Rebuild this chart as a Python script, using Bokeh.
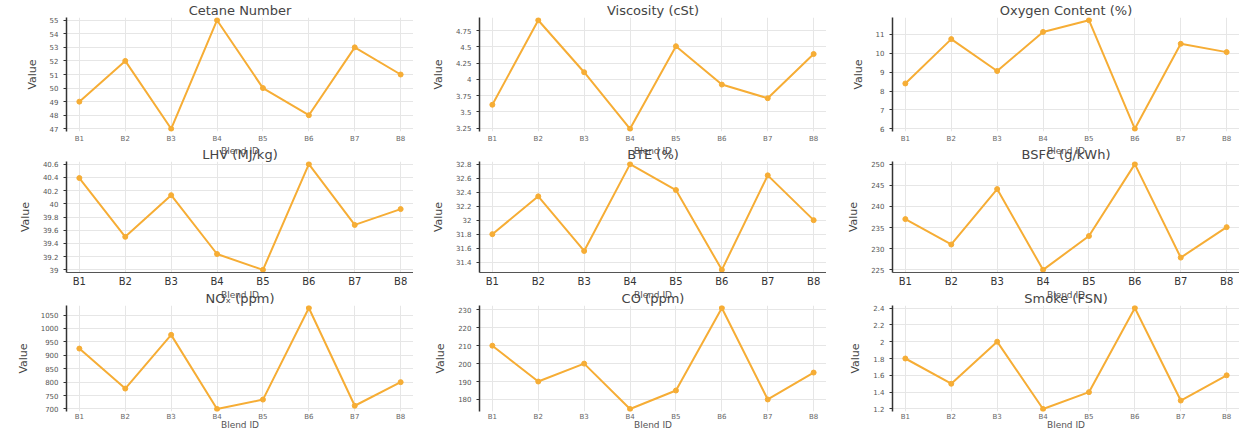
from bokeh.plotting import figure
from bokeh.layouts import column, row
from bokeh.models import FactorRange, DataRange1d, FixedTicker, ColumnDataSource
from bokeh.embed import file_html
from bokeh.resources import INLINE

blends = ["B1", "B2", "B3", "B4", "B5", "B6", "B7", "B8"]

titles = ["Cetane Number", "Viscosity (cSt)", "Oxygen Content (%)",
          "LHV (MJ/kg)", "BTE (%)", "BSFC (g/kWh)",
          "NOₓ (ppm)", "CO (ppm)", "Smoke (FSN)"]

cetane = [49, 52, 47, 55, 50, 48, 53, 51]
viscosity = [3.61, 4.91, 4.11, 3.24, 4.51, 3.92, 3.71, 4.39]
oxygen = [8.4, 10.75, 9.06, 11.13, 11.75, 6.0, 10.5, 10.06]
lhv = [40.39, 39.50, 40.13, 39.24, 39.00, 40.60, 39.68, 39.92]
bte = [31.80, 32.34, 31.56, 32.80, 32.43, 31.29, 32.64, 32.00]
bsfc = [237.0, 231.0, 244.1, 225.0, 233.0, 250.0, 227.9, 235.1]
nox = [925, 776, 976, 700, 735, 1076, 712, 800]
co = [210, 190, 200, 174.7, 185, 231, 180, 195]
smoke = [1.8, 1.5, 2.0, 1.2, 1.4, 2.4, 1.3, 1.6]

cetane_ticks = [47, 48, 49, 50, 51, 52, 53, 54, 55]
viscosity_ticks = [3.25, 3.5, 3.75, 4.0, 4.25, 4.5, 4.75]
oxygen_ticks = [6, 7, 8, 9, 10, 11, 12]
lhv_ticks = [39.0, 39.2, 39.4, 39.6, 39.8, 40.0, 40.2, 40.4, 40.6]
bte_ticks = [31.4, 31.6, 31.8, 32.0, 32.2, 32.4, 32.6, 32.8]
bsfc_ticks = [225, 230, 235, 240, 245, 250]
nox_ticks = [700, 750, 800, 850, 900, 950, 1000, 1050]
co_ticks = [180, 190, 200, 210, 220, 230]
smoke_ticks = [1.2, 1.4, 1.6, 1.8, 2.0, 2.2, 2.4]

series = [cetane, viscosity, oxygen, lhv, bte, bsfc, nox, co, smoke]
ticks = [cetane_ticks, viscosity_ticks, oxygen_ticks, lhv_ticks, bte_ticks,
         bsfc_ticks, nox_ticks, co_ticks, smoke_ticks]

LINE = "#f6ad35"
FONT = "DejaVu Sans"

figs = []
for i, (t, vals, tk) in enumerate(zip(titles, series, ticks)):
    r = i // 3
    src = ColumnDataSource(dict(blend=blends, value=vals))
    h = 144 if r == 2 else 158
    p = figure(width=413, height=h, output_backend="svg", toolbar_location=None,
               x_range=FactorRange(factors=blends, range_padding=-0.22,
                                   range_padding_units="absolute"),
               y_range=DataRange1d(range_padding=0.05),
               min_border_left=66, min_border_right=0, min_border_top=1,
               min_border_bottom=0)
    p.title.text = t
    p.title.align = "center"
    p.title.text_font = FONT
    p.title.text_font_size = "13px"
    p.title.text_font_style = "normal"
    p.title.text_color = "#444444"
    p.title.standoff = 0
    p.line("blend", "value", source=src, line_color=LINE, line_width=2)
    p.scatter("blend", "value", source=src, size=5, fill_color=LINE,
              line_color=LINE)
    p.yaxis.ticker = FixedTicker(ticks=tk)
    p.yaxis.axis_label = "Value"
    p.yaxis.axis_label_text_font = FONT
    p.yaxis.axis_label_text_font_size = "11px"
    p.yaxis.axis_label_text_font_style = "normal"
    p.yaxis.axis_label_text_color = "#444444"
    p.yaxis.axis_label_standoff = 8
    p.yaxis.major_label_text_font = FONT
    p.yaxis.major_label_text_font_size = "7px"
    p.yaxis.major_label_text_color = "#555555"
    p.yaxis.axis_line_color = "#333333"
    p.yaxis.axis_line_width = 1.5
    p.yaxis.major_tick_line_color = "#333333"
    p.yaxis.minor_tick_line_color = None
    p.yaxis.major_tick_in = 0
    p.yaxis.major_tick_out = 3
    p.xaxis.axis_label = "Blend ID"
    p.xaxis.axis_label_text_font = FONT
    p.xaxis.axis_label_text_font_size = "9px"
    p.xaxis.axis_label_text_font_style = "normal"
    p.xaxis.axis_label_text_color = "#555555"
    p.xaxis.axis_label_standoff = 0
    p.xaxis.major_label_text_font = FONT
    p.xaxis.major_label_standoff = 3
    p.xaxis.major_tick_line_color = None
    p.xaxis.major_tick_out = 0
    p.xaxis.major_tick_in = 0
    if r == 1:
        p.xaxis.major_label_text_font_size = "10px"
        p.xaxis.major_label_text_color = "#333333"
        p.xaxis.axis_line_color = "#555555"
    else:
        p.xaxis.major_label_text_font_size = "7px"
        p.xaxis.major_label_text_color = "#666666"
        p.xaxis.axis_line_color = None
    if r == 2:
        p.xaxis.major_label_standoff = 1
        p.xaxis.axis_label_standoff = -4
    p.xgrid.grid_line_color = "#e6e6e6"
    p.ygrid.grid_line_color = "#e6e6e6"
    p.outline_line_color = None
    p.border_fill_color = None
    p.background_fill_color = None
    figs.append(p)

rows = []
for r in range(3):
    kids = figs[3 * r:3 * r + 3]
    if r == 0:
        rows.append(row(*kids))
    else:
        rows.append(row(*kids, margin=(-14, 0, 0, 0)))

layout = column(*rows)
open("out.html", "w").write(file_html(layout, INLINE))
